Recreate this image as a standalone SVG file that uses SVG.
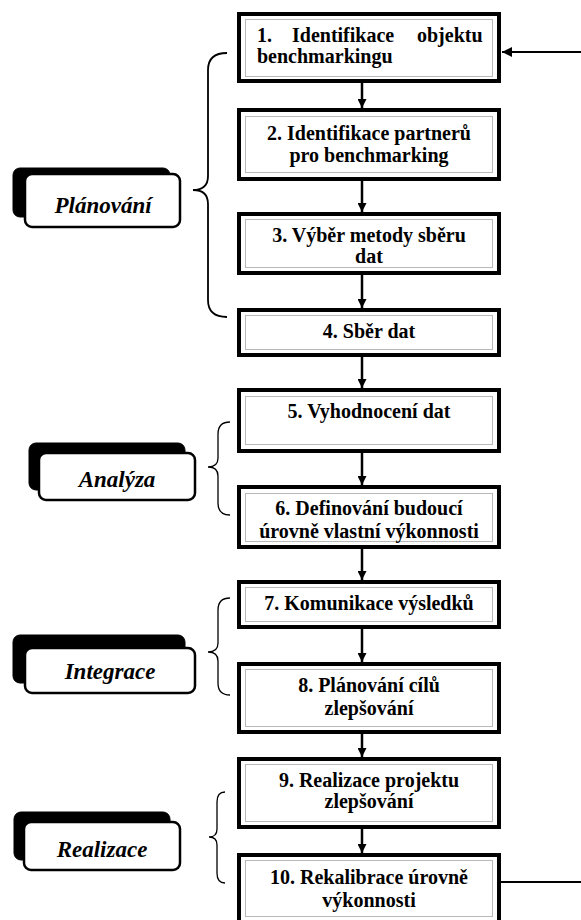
<svg xmlns="http://www.w3.org/2000/svg" width="581" height="920" viewBox="0 0 581 920">
<style>
.outer{fill:#fff;stroke:#000;stroke-width:4}
.inner{fill:none;stroke:#b8b8b8;stroke-width:1}
.t{font-family:"Liberation Serif","Times New Roman",serif;font-weight:bold;font-size:20px;fill:#000}
.c{text-anchor:middle}
.lbl{font-family:"Liberation Serif","Times New Roman",serif;font-weight:bold;font-style:italic;font-size:23px;fill:#000;text-anchor:middle}
.shadow{fill:#000;stroke:#000;stroke-width:1}
.front{fill:#fff;stroke:#000;stroke-width:2.5}
.brace{fill:none;stroke:#000;stroke-width:1.3}
.conn{fill:none;stroke:#000;stroke-width:2.5}
.fb{fill:none;stroke:#000;stroke-width:2}
</style>
<defs>
<marker id="ah" markerUnits="userSpaceOnUse" viewBox="0 0 10 10" markerWidth="10" markerHeight="9" refX="10" refY="5" orient="auto">
<path d="M0,0 L10,5 L0,10 z" fill="#000"/>
</marker>
<marker id="ah2" markerUnits="userSpaceOnUse" viewBox="0 0 10 10" markerWidth="13" markerHeight="10" refX="10" refY="5" orient="auto">
<path d="M0,0 L10,5 L0,10 z" fill="#000"/>
</marker>
</defs>

<g id="connectors">
<line class="conn" x1="362" y1="83" x2="362" y2="108" marker-end="url(#ah)"/>
<line class="conn" x1="362" y1="181" x2="362" y2="212" marker-end="url(#ah)"/>
<line class="conn" x1="362" y1="275" x2="362" y2="308" marker-end="url(#ah)"/>
<line class="conn" x1="362" y1="357" x2="362" y2="388" marker-end="url(#ah)"/>
<line class="conn" x1="362" y1="453" x2="362" y2="485" marker-end="url(#ah)"/>
<line class="conn" x1="362" y1="549" x2="362" y2="580" marker-end="url(#ah)"/>
<line class="conn" x1="362" y1="629" x2="362" y2="662" marker-end="url(#ah)"/>
<line class="conn" x1="362" y1="734" x2="362" y2="757" marker-end="url(#ah)"/>
<line class="conn" x1="362" y1="829" x2="362" y2="853" marker-end="url(#ah)"/>
<polyline class="fb" points="501,882 592,882 592,52 502,52" marker-end="url(#ah2)"/>
</g>

<g id="box1">
<rect class="outer" x="239" y="14" width="260" height="67"/>
<rect class="inner" x="245.5" y="19.5" width="247" height="57"/>
<text class="t" y="42"><tspan x="257">1.</tspan><tspan x="292">Identifikace</tspan><tspan x="417">objektu</tspan></text>
<text class="t" x="257" y="63">benchmarkingu</text>
</g>
<g id="box2">
<rect class="outer" x="239" y="110" width="260" height="69"/>
<rect class="inner" x="245.5" y="116.5" width="247" height="56"/>
<text class="t c" x="369" y="140">2. Identifikace partnerů</text>
<text class="t c" x="369" y="162">pro benchmarking</text>
</g>
<g id="box3">
<rect class="outer" x="239" y="214" width="260" height="59"/>
<rect class="inner" x="245.5" y="219.5" width="247" height="48"/>
<text class="t c" x="369" y="242">3. Výběr metody sběru</text>
<text class="t c" x="369" y="263">dat</text>
</g>
<g id="box4">
<rect class="outer" x="239" y="310" width="260" height="45"/>
<rect class="inner" x="245.5" y="315.5" width="247" height="34"/>
<text class="t c" x="369" y="338">4. Sběr dat</text>
</g>
<g id="box5">
<rect class="outer" x="239" y="390" width="260" height="61"/>
<rect class="inner" x="245.5" y="396.5" width="247" height="48"/>
<text class="t c" x="369" y="418">5. Vyhodnocení dat</text>
</g>
<g id="box6">
<rect class="outer" x="239" y="487" width="260" height="60"/>
<rect class="inner" x="245.5" y="493.5" width="247" height="48"/>
<text class="t c" x="369" y="515">6. Definování budoucí</text>
<text class="t c" x="369" y="538">úrovně vlastní výkonnosti</text>
</g>
<g id="box7">
<rect class="outer" x="239" y="582" width="260" height="45"/>
<rect class="inner" x="245.5" y="587.5" width="247" height="34"/>
<text class="t c" x="369" y="610">7. Komunikace výsledků</text>
</g>
<g id="box8">
<rect class="outer" x="239" y="664" width="260" height="68"/>
<rect class="inner" x="245.5" y="669.5" width="247" height="57"/>
<text class="t c" x="369" y="692">8. Plánování cílů</text>
<text class="t c" x="369" y="715">zlepšování</text>
</g>
<g id="box9">
<rect class="outer" x="239" y="759" width="260" height="68"/>
<rect class="inner" x="245.5" y="764.5" width="247" height="57"/>
<text class="t c" x="369" y="787">9. Realizace projektu</text>
<text class="t c" x="369" y="808">zlepšování</text>
</g>
<g id="box10">
<rect class="outer" x="239" y="855" width="260" height="68"/>
<rect class="inner" x="245.5" y="860.5" width="247" height="56"/>
<text class="t c" x="369" y="884">10. Rekalibrace úrovně</text>
<text class="t c" x="369" y="907">výkonnosti</text>
</g>

<g id="phase-planovani">
<rect class="shadow" x="13" y="168" width="157" height="49" rx="7"/>
<rect class="front" x="25" y="174" width="155" height="53" rx="7"/>
<text class="lbl" x="103" y="213">Plánování</text>
<path class="brace" style="stroke-width:1.8" d="M227,53 Q208,53 208,70 L208,176 Q208,190 193,190 Q208,190 208,204 L208,300 Q208,317 227,317"/>
</g>
<g id="phase-analyza">
<rect class="shadow" x="29" y="443" width="156" height="47" rx="7"/>
<rect class="front" x="39" y="453" width="156" height="47" rx="7"/>
<text class="lbl" x="117" y="487">Analýza</text>
<path class="brace" d="M230,422 Q218,422 218,434 L218,458 Q218,467 208,467 Q218,467 218,476 L218,503 Q218,515 230,515"/>
</g>
<g id="phase-integrace">
<rect class="shadow" x="13" y="635" width="172" height="48" rx="7"/>
<rect class="front" x="25" y="648" width="170" height="45" rx="7"/>
<text class="lbl" x="110" y="679">Integrace</text>
<path class="brace" d="M230,598 Q218,598 218,610 L218,643 Q218,652 208,652 Q218,652 218,661 L218,683 Q218,695 230,695"/>
</g>
<g id="phase-realizace">
<rect class="shadow" x="14" y="812" width="156" height="48" rx="7"/>
<rect class="front" x="24" y="822" width="156" height="48" rx="7"/>
<text class="lbl" x="102" y="857">Realizace</text>
<path class="brace" d="M225,792 Q217,792 217,802 L217,829 Q217,837 209,837 Q217,837 217,845 L217,873 Q217,883 225,883"/>
</g>
</svg>
